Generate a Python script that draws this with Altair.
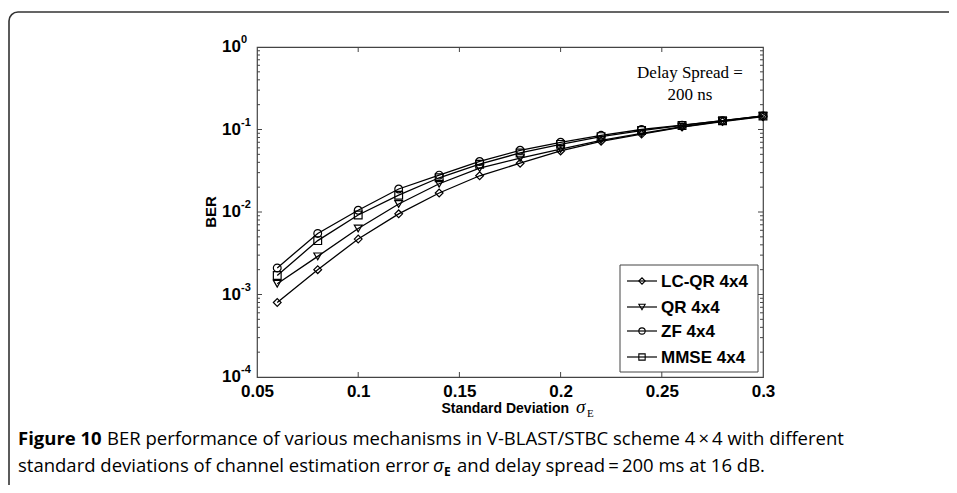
import altair as alt
import pandas as pd

# ---------------- data ----------------
sigma = [0.06, 0.08, 0.10, 0.12, 0.14, 0.16, 0.18, 0.20, 0.22, 0.24, 0.26, 0.28, 0.30]
lcqr = [0.0008, 0.0020, 0.0047, 0.0095, 0.017, 0.0275, 0.039, 0.055, 0.072, 0.088, 0.107, 0.125, 0.143]
qr = [0.00135, 0.0029, 0.0063, 0.0125, 0.022, 0.034, 0.045, 0.058, 0.074, 0.090, 0.108, 0.126, 0.145]
zf = [0.0021, 0.0055, 0.0105, 0.019, 0.028, 0.041, 0.056, 0.070, 0.085, 0.100, 0.113, 0.128, 0.146]
mmse = [0.0017, 0.0045, 0.0092, 0.016, 0.026, 0.038, 0.052, 0.066, 0.082, 0.097, 0.112, 0.128, 0.146]

series_names = ["LC-QR 4x4", "QR 4x4", "ZF 4x4", "MMSE 4x4"]
shapes = ["diamond", "triangle-down", "circle", "square"]

x_ticks = [0.05, 0.10, 0.15, 0.20, 0.25, 0.30]
y_major = [1e-4, 1e-3, 1e-2, 1e-1, 1.0]
y_exp = ["-4", "-3", "-2", "-1", "0"]
y_minor = [k * 10.0 ** e for e in range(-4, 0) for k in range(2, 10)]

annotation = ["Delay Spread =", "200 ns"]
caption_bold = "Figure 10"
caption_1 = "BER performance of various mechanisms in V-BLAST/STBC scheme 4\u2009\u00d7\u20094 with different"
caption_2a = "standard deviations of channel estimation error"
caption_2b = "and delay spread\u2009=\u2009200 ms at 16 dB."

rows = []
for name, vals in zip(series_names, [lcqr, qr, zf, mmse]):
    for s, v in zip(sigma, vals):
        rows.append({"sigma": s, "ber": v, "series": name})
df = pd.DataFrame(rows)

W, H = 506, 330
SANS = "Liberation Sans"
SERIF = "Liberation Serif"
CAP = "Open Sans"
CAPSIZE = 18.5
AX = "#444444"

xs = alt.Scale(domain=[0.05, 0.3], nice=False, zero=False)
ys = alt.Scale(type="log", domain=[1e-4, 1], nice=False)

one = pd.DataFrame({"a": [0]})

# frame around whole figure
frame = alt.Chart(one).mark_rect(fillOpacity=0, stroke="#333333", strokeWidth=1.6, cornerRadius=9).encode(
    x=alt.value(-248), x2=alt.value(740), y=alt.value(-35), y2=alt.value(500))

lines = alt.Chart(df).mark_line(color="black", strokeWidth=1.3).encode(
    x=alt.X("sigma:Q", scale=xs, title=None,
            axis=alt.Axis(values=x_ticks, format="~g", ticks=False, domain=False, grid=False,
                          labelFont=SANS, labelFontWeight="bold", labelFontSize=17,
                          labelColor="black", labelPadding=6, labelFlush=False)),
    y=alt.Y("ber:Q", scale=ys, axis=None),
    detail="series:N")

points = alt.Chart(df).mark_point(filled=False, color="black", size=60, strokeWidth=1.2, opacity=1).encode(
    x=alt.X("sigma:Q", scale=xs),
    y=alt.Y("ber:Q", scale=ys),
    shape=alt.Shape("series:N", scale=alt.Scale(domain=series_names, range=shapes), legend=None))

# inward ticks
xt = pd.DataFrame({"v": x_ticks[1:-1]})
xt_top = alt.Chart(xt).mark_rule(color=AX).encode(x=alt.X("v:Q", scale=xs), y=alt.value(0), y2=alt.value(5))
xt_bot = alt.Chart(xt).mark_rule(color=AX).encode(x=alt.X("v:Q", scale=xs), y=alt.value(H - 5), y2=alt.value(H))
ym = pd.DataFrame({"v": y_major[1:-1]})
yn = pd.DataFrame({"v": y_minor})
ym_l = alt.Chart(ym).mark_rule(color=AX).encode(y=alt.Y("v:Q", scale=ys), x=alt.value(0), x2=alt.value(5))
ym_r = alt.Chart(ym).mark_rule(color=AX).encode(y=alt.Y("v:Q", scale=ys), x=alt.value(W - 5), x2=alt.value(W))
yn_l = alt.Chart(yn).mark_rule(color=AX).encode(y=alt.Y("v:Q", scale=ys), x=alt.value(0), x2=alt.value(3))
yn_r = alt.Chart(yn).mark_rule(color=AX).encode(y=alt.Y("v:Q", scale=ys), x=alt.value(W - 3), x2=alt.value(W))

# y tick labels 10^k
yl = pd.DataFrame({"v": y_major, "exp": y_exp})
ylab_base = alt.Chart(yl).mark_text(align="right", baseline="middle", font=SANS, fontWeight="bold",
                                    fontSize=17, color="black").encode(
    y=alt.Y("v:Q", scale=ys), x=alt.value(-16), text=alt.value("10"))
ylab_exp = alt.Chart(yl).mark_text(align="left", baseline="middle", font=SANS, fontWeight="bold",
                                   fontSize=11, color="black", dy=-7).encode(
    y=alt.Y("v:Q", scale=ys), x=alt.value(-16), text="exp:N")

ytitle = alt.Chart(one).mark_text(angle=270, font=SANS, fontWeight="bold", fontSize=15, color="black",
                                  baseline="middle", align="center").encode(
    x=alt.value(-46), y=alt.value(165), text=alt.value("BER"))

xtitle = alt.Chart(one).mark_text(align="right", baseline="middle", font=SANS, fontWeight="bold",
                                  fontSize=14, color="black").encode(
    x=alt.value(312), y=alt.value(362), text=alt.value("Standard Deviation"))
xsig = alt.Chart(one).mark_text(align="left", baseline="alphabetic", font=SERIF, fontStyle="italic",
                                fontSize=19, color="black").encode(
    x=alt.value(319), y=alt.value(366), text=alt.value("\u03c3"))
xsub = alt.Chart(one).mark_text(align="left", baseline="alphabetic", font=SERIF,
                                fontSize=11, color="black").encode(
    x=alt.value(330), y=alt.value(370), text=alt.value("E"))

# annotation
ann = [alt.Chart(one).mark_text(align="center", baseline="middle", font=SERIF, fontSize=17, color="black").encode(
    x=alt.value(433), y=alt.value(yy), text=alt.value(t)) for t, yy in zip(annotation, [26, 48])]

# legend
legend_layers = [alt.Chart(one).mark_rect(fill="white", stroke=AX, strokeWidth=1).encode(
    x=alt.value(363), x2=alt.value(501), y=alt.value(218), y2=alt.value(325))]
for name, shp, yy in zip(series_names, shapes, [234, 260, 284, 310]):
    legend_layers.append(alt.Chart(one).mark_rule(color="black", strokeWidth=1.2).encode(
        x=alt.value(370), x2=alt.value(400), y=alt.value(yy)))
    legend_layers.append(alt.Chart(one).mark_point(filled=False, color="black", size=40, strokeWidth=1.1,
                                                   opacity=1, shape=shp).encode(
        x=alt.value(385), y=alt.value(yy)))
    legend_layers.append(alt.Chart(one).mark_text(align="left", baseline="middle", font=SANS, fontWeight="bold",
                                                  fontSize=17, color="black").encode(
        x=alt.value(404), y=alt.value(yy + 1), text=alt.value(name)))

# caption
cap = [
    alt.Chart(one).mark_text(align="left", baseline="alphabetic", font=CAP, fontWeight="bold", fontSize=CAPSIZE,
                             color="black").encode(x=alt.value(-239), y=alt.value(398), text=alt.value(caption_bold)),
    alt.Chart(one).mark_text(align="left", baseline="alphabetic", font=CAP, fontSize=CAPSIZE,
                             color="black").encode(x=alt.value(-150), y=alt.value(398), text=alt.value(caption_1)),
    alt.Chart(one).mark_text(align="left", baseline="alphabetic", font=CAP, fontSize=CAPSIZE,
                             color="black").encode(x=alt.value(-239), y=alt.value(425), text=alt.value(caption_2a)),
    alt.Chart(one).mark_text(align="left", baseline="alphabetic", font=CAP, fontStyle="italic", fontSize=CAPSIZE,
                             color="black").encode(x=alt.value(176), y=alt.value(425), text=alt.value("\u03c3")),
    alt.Chart(one).mark_text(align="left", baseline="alphabetic", font=CAP, fontWeight="bold", fontSize=12,
                             color="black").encode(x=alt.value(187), y=alt.value(429), text=alt.value("E")),
    alt.Chart(one).mark_text(align="left", baseline="alphabetic", font=CAP, fontSize=CAPSIZE,
                             color="black").encode(x=alt.value(200), y=alt.value(425), text=alt.value(caption_2b)),
]

chart = alt.layer(
    frame, lines, points, xt_top, xt_bot, ym_l, ym_r, yn_l, yn_r,
    ylab_base, ylab_exp, ytitle, xtitle, xsig, xsub, *ann, *legend_layers, *cap
).properties(
    width=W, height=H,
    autosize=alt.AutoSizeParams(type="none"),
    padding={"left": 249, "top": 39, "right": 186, "bottom": 108},
).configure_view(stroke=AX, strokeWidth=1.2)

chart.save("out.html", embed_options={"renderer": "svg", "actions": False})
